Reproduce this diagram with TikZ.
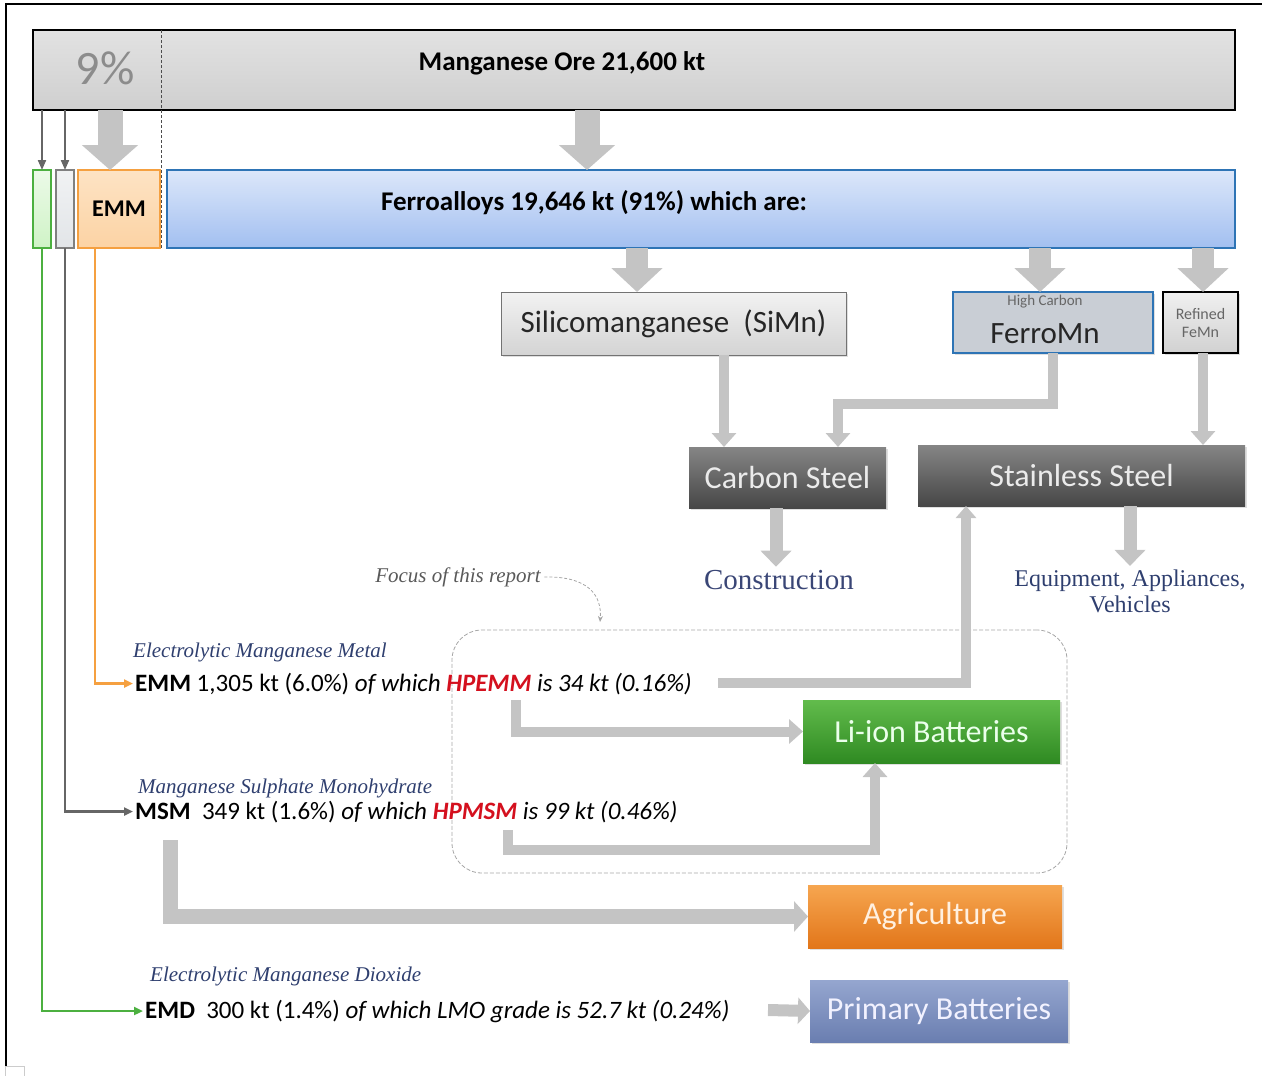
\documentclass[tikz,border=0pt]{standalone}
\usepackage{fontspec}
\setmainfont{Carlito}
\newfontfamily\labfont{Liberation Serif}
\usetikzlibrary{arrows.meta,shadows,calc}
\definecolor{labblue}{HTML}{2F3F6F}
\definecolor{constrblue}{HTML}{3A4676}
\definecolor{arrgrey}{HTML}{C4C4C4}
\definecolor{hpred}{HTML}{D4101E}
\definecolor{oretop}{HTML}{E2E2E2}
\definecolor{orebot}{HTML}{CFCFCF}
\definecolor{ferrotop}{HTML}{DCE7FA}
\definecolor{ferrobot}{HTML}{A2BFF0}
\definecolor{ferroborder}{HTML}{2E74B5}
\definecolor{emmfill}{HTML}{FCD3A4}
\definecolor{emmtop}{HTML}{FDE3C4}
\definecolor{orangeC}{HTML}{F5A040}
\definecolor{greenC}{HTML}{4CB040}
\definecolor{greenfill}{HTML}{CFF3C6}
\definecolor{greyfill}{HTML}{E2E5E8}
\definecolor{darktop}{HTML}{858585}
\definecolor{darkbot}{HTML}{474747}
\definecolor{litop}{HTML}{62BC4C}
\definecolor{libot}{HTML}{2F8A22}
\definecolor{agtop}{HTML}{F6A650}
\definecolor{agbot}{HTML}{E2761A}
\definecolor{pbtop}{HTML}{95A6CF}
\definecolor{pbbot}{HTML}{6A7EB0}
\definecolor{hcfill}{HTML}{C9CED5}
\newcommand{\fsz}[1]{\fontsize{#1}{#1}\selectfont}
\begin{document}
\begin{tikzpicture}[x=1pt,y=-1pt,
  box/.style={anchor=north west, inner sep=0pt, outer sep=0pt},
  blockarr/.style={draw=arrgrey, line width=25pt, -{Triangle[width=55pt,length=25pt]}},
  smallblock/.style={draw=arrgrey, line width=22pt, -{Triangle[width=50pt,length=24pt]}},
  flowarr/.style={draw=arrgrey, line width=10pt, line join=miter, -{Triangle[width=24pt,length=14pt]}},
  thinarr/.style={draw=#1, line width=2.2pt, line join=miter, shorten >=2pt, -{Triangle[width=8pt,length=9pt]}},
  lab/.style={font=\labfont\itshape\fsz{21}, text=labblue, anchor=base west, inner sep=0pt},
  txtline/.style={font=\fsz{25}, anchor=base west, inner sep=0pt},
  shadowed/.style={drop shadow={opacity=0.25, shadow xshift=2pt, shadow yshift=-2pt}},
  darkbox/.style={box, shadowed, top color=darktop, bottom color=darkbot, text=white!92!black, font=\fsz{32}},
]
\useasboundingbox (0,0) rectangle (1264,1076);
% frame
\draw[black, line width=1.5pt] (6,1066) -- (6,4) -- (1262,4);
\draw[black!20, line width=0.8pt] (5,1066) rectangle (24,1076);

% ore box
\node[box, draw=black, line width=1.2pt, top color=oretop, bottom color=orebot,
      minimum width=1202pt, minimum height=80pt] (ore) at (33,30) {};
\node[font=\fsz{48}, text=black!45] (pct) at (105,68) {9\%};
\node[font=\bfseries\fsz{27}] (oretxt) at (562,63) {Manganese Ore 21,600 kt};
\draw[black!70, line width=0.6pt, dash pattern=on 3pt off 2pt] (161,30) -- (161,249);

% second row
\node[box, draw=greenC, line width=1.2pt, top color=white!60!greenfill, bottom color=greenfill,
      minimum width=18pt, minimum height=78pt] (greenbox) at (33,170) {};
\node[box, draw=black!50, line width=1.2pt, top color=white!50!greyfill, bottom color=greyfill,
      minimum width=18pt, minimum height=78pt] (greybox) at (56,170) {};
\node[box, draw=orangeC, line width=1.2pt, top color=emmtop, bottom color=emmfill,
      minimum width=82pt, minimum height=78pt, font=\bfseries\fsz{24}] (emmbox) at (78,170) {EMM};
\node[box, draw=ferroborder, line width=1.5pt, top color=ferrotop, bottom color=ferrobot,
      minimum width=1068pt, minimum height=78pt] (ferro) at (167,170) {};
\node[font=\bfseries\fsz{27}] (ferrotxt) at (594,203) {Ferroalloys 19,646 kt (91\%) which are:};

% arrows from ore
\coordinate (xa) at (110,0);
\coordinate (xb) at (587,0);
\draw[blockarr] (ore.south -| xa) -- (emmbox.north -| xa);
\draw[blockarr] (ore.south -| xb) -- (ferro.north -| xb);
\draw[black!60, line width=2pt, -{Triangle[width=8pt,length=10pt]}] (ore.south -| greenbox) -- (greenbox.north);
\draw[black!60, line width=2pt, -{Triangle[width=8pt,length=10pt]}] (ore.south -| greybox) -- (greybox.north);

% ferroalloy products
\node[box, shadowed, draw=black!55, line width=1pt, top color=black!5, bottom color=black!17,
      minimum width=345pt, minimum height=63pt, font=\fsz{31}, text=black!85] (simn) at (501,292) {Silicomanganese\ \ (SiMn)};
\node[box, shadowed, draw=ferroborder, line width=1.2pt, fill=hcfill,
      minimum width=200pt, minimum height=61pt] (hcf) at (953,292) {};
\node[font=\fsz{15}, text=black!60] (hctxt) at (1045,302) {High Carbon};
\node[font=\fsz{31}, text=black!85] (fmtxt) at (1045,334) {FerroMn};
\node[box, shadowed, draw=black, line width=1.2pt, top color=black!6, bottom color=black!18,
      minimum width=75pt, minimum height=61pt, font=\fsz{16}, text=black!60, align=center] (refined) at (1163,292) {Refined\\[2pt]FeMn};

\coordinate (xc) at (637,0);
\coordinate (xd) at (1040,0);
\coordinate (xe) at (1203,0);
\draw[smallblock] (ferro.south -| xc) -- (simn.north -| xc);
\draw[smallblock] (ferro.south -| xd) -- (hcf.north -| xd);
\draw[smallblock] (ferro.south -| xe) -- (refined.north -| xe);

% steels
\node[darkbox, minimum width=197pt, minimum height=61pt] (carbon) at (689,447) {Carbon Steel};
\node[darkbox, minimum width=327pt, minimum height=61pt] (stainless) at (918,445) {Stainless Steel};

\coordinate (xf) at (724,0);
\coordinate (xg) at (1053,0);
\coordinate (xh) at (838,0);
\coordinate (yk) at (0,404);
\draw[flowarr] (simn.south -| xf) -- (carbon.north -| xf);
\draw[flowarr] (hcf.south -| xg) -- (xg |- yk) -| (carbon.north -| xh);
\draw[flowarr] (refined.south -| xe) -- (stainless.north -| xe);

% uses
\node[font=\labfont\fsz{29}, text=constrblue] (constr) at (779,580) {Construction};
\node[font=\labfont\fsz{24}, text=labblue, align=center] (equip) at (1130,591) {Equipment, Appliances,\\[2pt]Vehicles};
\coordinate (xi) at (776,0);
\draw[flowarr, line width=13pt, -{Triangle[width=30pt,length=16pt]}] (carbon.south -| xi) -- (constr.north -| xi);
\draw[flowarr, line width=13pt, -{Triangle[width=30pt,length=16pt]}] (stainless.south -| equip) -- (equip.north);

% focus box
\node[box, draw=black!35, line width=0.8pt, dash pattern=on 4pt off 2pt, rounded corners=30pt,
      minimum width=615pt, minimum height=243pt] (focusbox) at (452,630) {};
\node[font=\labfont\itshape\fsz{21}, text=black!65] (focus) at (458,577) {Focus of this report};
\coordinate (fx) at (600,622);
\draw[black!35, line width=0.8pt, dash pattern=on 3pt off 2pt, -{Stealth[length=6pt,width=5pt]}]
  (focus.east) .. controls (588,576) and (602,595) .. (fx);

% end products
\node[box, shadowed, top color=litop, bottom color=libot, minimum width=257pt, minimum height=63pt,
      font=\fsz{32}, text=green!8!white] (liion) at (803,700) {Li-ion Batteries};
\node[box, shadowed, top color=agtop, bottom color=agbot, minimum width=254pt, minimum height=63pt,
      font=\fsz{32}, text=orange!12!white] (agri) at (808,885) {Agriculture};
\node[box, shadowed, top color=pbtop, bottom color=pbbot, minimum width=258pt, minimum height=62pt,
      font=\fsz{32}, text=blue!5!white] (primary) at (810,980) {Primary Batteries};

% text lines
\node[lab] (emmlab) at (133,657) {Electrolytic Manganese Metal};
\node[txtline] (emmtxt) at (135,691) {\textbf{EMM} 1,305 kt (6.0\%) \textit{of which \textcolor{hpred}{\textbf{HPEMM}} is 34 kt (0.16\%)}};
\node[lab] (msmlab) at (138,793) {Manganese Sulphate Monohydrate};
\node[txtline] (msmtxt) at (135,819) {\textbf{MSM}\ \ 349 kt (1.6\%) \textit{of which \textcolor{hpred}{\textbf{HPMSM}} is 99 kt (0.46\%)}};
\node[lab] (emdlab) at (150,981) {Electrolytic Manganese Dioxide};
\node[txtline] (emdtxt) at (145,1018) {\textbf{EMD}\ \ 300 kt (1.4\%) \textit{of which LMO grade is 52.7 kt (0.24\%)}};

% left connectors
\draw[thinarr=orangeC] ($(emmbox.south west)+(17,0)$) |- (emmtxt.west);
\draw[thinarr=black!60] (greybox.south) |- (msmtxt.west);
\draw[thinarr=greenC] (greenbox.south) |- (emdtxt.west);

% flows inside focus
\coordinate (h1) at (516,700);
\coordinate (h2) at (718,683);
\coordinate (xs) at (966,0);
\coordinate (h3) at (508,830);
\coordinate (h4) at (508,850);
\coordinate (xl) at (875,0);
\coordinate (h5) at (170,840);
\coordinate (h6) at (768,1010);
\draw[flowarr] (h1) |- (liion.west);
\draw[flowarr, -{Triangle[width=20pt,length=12pt]}] (h2) -| (stainless.south -| xs);
\draw[flowarr] (h3) -- (h4) -| (liion.south -| xl);
\draw[flowarr, line width=15pt, -{Triangle[width=30pt,length=14pt]}] (h5) |- (agri.west);
\draw[flowarr, line width=12pt, -{Triangle[width=26pt,length=12pt]}] (h6) -- (primary.west);
\end{tikzpicture}
\end{document}
